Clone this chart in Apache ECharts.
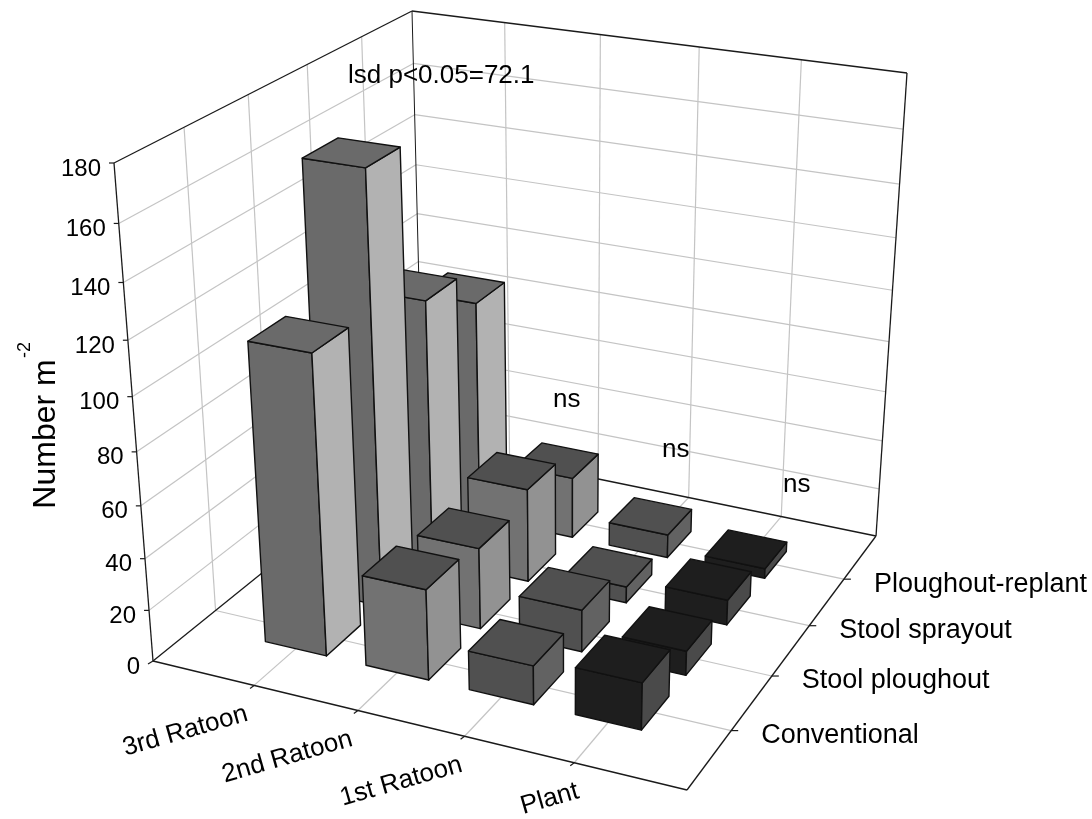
<!DOCTYPE html>
<html>
<head>
<meta charset="utf-8">
<style>
  html, body { margin: 0; padding: 0; background: #fff; }
  #chart { width: 1092px; height: 819px; }
</style>
<script src="https://cdn.jsdelivr.net/npm/echarts@6/dist/echarts.min.js"></script>
</head>
<body>
<div id="chart"></div>
<script>
  // values per treatment, in the order of categories
  const categories = ['3rd Ratoon', '2nd Ratoon', '1st Ratoon', 'Plant']
  const treatments = ['Conventional', 'Stool ploughout', 'Stool sprayout', 'Ploughout-replant']
  const zTicks = [0, 20, 40, 60, 80, 100, 120, 140, 160, 180]
  const conventional = [114, 35, 15, 18]
  const stoolPloughout = [165, 32, 16.5, 9.5]
  const stoolSprayout = [104, 37.5, 6.5, 10]
  const ploughoutReplant = [89, 25, 9.5, 4]
  const notes = ['lsd p<0.05=72.1', 'ns', 'ns', 'ns']

  const seriesValues = [conventional, stoolPloughout, stoolSprayout, ploughoutReplant]

  // box corners on the page: floor and top, each front-left, front-right, back-right, back-left
  const floorQuad = [[153, 661], [687, 790], [876, 536], [423, 443]]
  const topQuad = [[114, 163], [703, 257], [907, 73], [412, 11]]
  const zForeshorten = 0.905
  const gridSize = 500
  const barHalf = 0.061
  const font = '"Liberation Sans", Arial, sans-serif'
  const categoryLabelShift = [-7, -6, -3, 4]

  // top, front, side shade for each category
  const shades = [
    ['#6a6a6a', '#6a6a6a', '#b2b2b2'],
    ['#505050', '#727272', '#929292'],
    ['#505050', '#505050', '#626262'],
    ['#1e1e1e', '#1e1e1e', '#4a4a4a']
  ]

  function quadMap(q) {
    const [[x0, y0], [x1, y1], [x2, y2], [x3, y3]] = q
    const sx = x0 - x1 + x2 - x3
    const sy = y0 - y1 + y2 - y3
    const dx1 = x1 - x2
    const dx2 = x3 - x2
    const dy1 = y1 - y2
    const dy2 = y3 - y2
    const den = dx1 * dy2 - dx2 * dy1
    const g = (sx * dy2 - dx2 * sy) / den
    const h = (dx1 * sy - sx * dy1) / den
    const a = x1 - x0 + g * x1
    const b = x3 - x0 + h * x3
    const d = y1 - y0 + g * y1
    const e = y3 - y0 + h * y3
    return (u, v) => {
      const k = g * u + h * v + 1
      return [(a * u + b * v + x0) / k, (d * u + e * v + y0) / k]
    }
  }

  const floorAt = quadMap(floorQuad)
  const topAt = quadMap(topQuad)

  function project(u, v, w) {
    const t = zForeshorten * w / (1 + w * (zForeshorten - 1))
    const f = floorAt(u, v)
    const c = topAt(u, v)
    return [f[0] + (c[0] - f[0]) * t, f[1] + (c[1] - f[1]) * t]
  }

  // the hidden grid is a unit square for the floor, so both axes stay ECharts scales
  function toFloor(api, a, b) {
    const p = api.coord([a, b])
    return [p[0] / gridSize, 1 - p[1] / gridSize]
  }

  function toHeight(value) {
    return echarts.number.linearMap(value, [zTicks[0], zTicks[zTicks.length - 1]], [0, 1], true)
  }

  function line(p, q, stroke, width) {
    return {
      type: 'line',
      shape: {x1: p[0], y1: p[1], x2: q[0], y2: q[1]},
      style: {stroke: stroke, lineWidth: width}
    }
  }

  function label(text, x, y, size, align, rotation) {
    return {
      type: 'text',
      x: x,
      y: y,
      rotation: rotation || 0,
      style: {text: text, fill: '#000', fontSize: size, fontFamily: font, align: align || 'left', verticalAlign: 'middle'}
    }
  }

  function renderFrame(params, api) {
    const grey = '#c4c4c4'
    const black = '#1a1a1a'
    const out = []
    const tickU = categories.map((c, i) => toFloor(api, i + 1, 1)[0])
    const tickV = treatments.map((c, i) => toFloor(api, 1, i + 1)[1])

    tickU.forEach(u => {
      out.push(line(project(u, 0, 0), project(u, 1, 0), grey, 1.2))
      out.push(line(project(u, 1, 0), project(u, 1, 1), grey, 1.2))
    })
    tickV.forEach(v => {
      out.push(line(project(0, v, 0), project(1, v, 0), grey, 1.2))
      out.push(line(project(0, v, 0), project(0, v, 1), grey, 1.2))
    })
    zTicks.slice(1, -1).forEach(z => {
      const w = toHeight(z)
      out.push(line(project(0, 0, w), project(0, 1, w), grey, 1.2))
      out.push(line(project(0, 1, w), project(1, 1, w), grey, 1.2))
    })

    // box edges
    out.push(line(project(0, 0, 0), project(0, 0, 1), black, 1.3))
    out.push(line(project(0, 0, 1), project(0, 1, 1), black, 1.3))
    out.push(line(project(0, 1, 1), project(1, 1, 1), black, 1.3))
    out.push(line(project(1, 1, 1), project(1, 1, 0), black, 1.3))
    out.push(line(project(0, 1, 0), project(0, 1, 1), black, 1))
    out.push(line(project(0, 0, 0), project(1, 0, 0), black, 1.3))
    out.push(line(project(1, 0, 0), project(1, 1, 0), black, 1.3))
    out.push(line(project(1, 1, 0), project(0, 1, 0), black, 1.3))
    out.push(line(project(0, 0, 0), project(0, 1, 0), black, 1.3))

    // tick marks and labels
    zTicks.forEach(z => {
      const p = project(0, 0, toHeight(z))
      out.push(line(p, [p[0] - 5, p[1] + (z === 0 ? 3 : 0)], black, 1.2))
      out.push(label(String(z), p[0] - 13, p[1] + 6, 24, 'right'))
    })
    categories.forEach((c, i) => {
      const p = project(tickU[i], 0, 0)
      out.push(line(p, [p[0] - 4, p[1] + 3], black, 1.2))
      out.push(label(c, p[0] + categoryLabelShift[i], p[1] + 28, 26, 'right', 16 * Math.PI / 180))
    })
    treatments.forEach((c, i) => {
      const p = project(1, tickV[i], 0)
      out.push(line(p, [p[0] + 7, p[1]], black, 1.2))
      out.push(label(c, p[0] + 30, p[1] + 5, 27))
    })

    out.push(label('Number m', 46, 434, 32, 'center', Math.PI / 2))
    out.push(label('-2', 25, 350, 18, 'center', Math.PI / 2))
    out.push(label(notes[0], 348, 76, 26))
    out.push(label(notes[1], 553, 400, 26))
    out.push(label(notes[2], 662, 450, 26))
    out.push(label(notes[3], 783, 485, 26))

    return {type: 'group', children: out}
  }

  function renderBar(params, api) {
    const cat = api.value(0)
    const f = toFloor(api, cat, api.value(1))
    const w = toHeight(api.value(2))
    const colors = shades[cat - 1]
    const u0 = f[0] - barHalf
    const u1 = f[0] + barHalf
    const v0 = f[1] - barHalf
    const v1 = f[1] + barHalf
    const face = (pts, fill) => ({
      type: 'polygon',
      shape: {points: pts},
      style: {fill: fill, stroke: '#111', lineWidth: 1.4, lineJoin: 'round'}
    })
    return {
      type: 'group',
      children: [
        face([project(u0, v0, 0), project(u1, v0, 0), project(u1, v0, w), project(u0, v0, w)], colors[1]),
        face([project(u1, v0, 0), project(u1, v1, 0), project(u1, v1, w), project(u1, v0, w)], colors[2]),
        face([project(u0, v0, w), project(u1, v0, w), project(u1, v1, w), project(u0, v1, w)], colors[0])
      ]
    }
  }

  // painter's order: back row first, left to right
  const barData = []
  for (let r = treatments.length - 1; r >= 0; r--) {
    categories.forEach((c, i) => {
      barData.push([i + 1, r + 1, seriesValues[r][i]])
    })
  }

  const chart = echarts.init(document.getElementById('chart'), null, {renderer: 'canvas'})
  chart.setOption({
    animation: false,
    backgroundColor: '#fff',
    grid: {left: 0, top: 0, width: gridSize, height: gridSize, show: false},
    xAxis: {type: 'value', min: 0, max: categories.length + 1, show: false},
    yAxis: {type: 'value', min: 0, max: treatments.length + 1, show: false},
    series: [
      {
        type: 'custom',
        coordinateSystem: 'cartesian2d',
        renderItem: renderFrame,
        data: [[0, 0]],
        silent: true,
        clip: false
      },
      {
        type: 'custom',
        coordinateSystem: 'cartesian2d',
        renderItem: renderBar,
        encode: {x: 0, y: 1},
        data: barData,
        silent: true,
        clip: false
      }
    ]
  })
</script>
</body>
</html>
